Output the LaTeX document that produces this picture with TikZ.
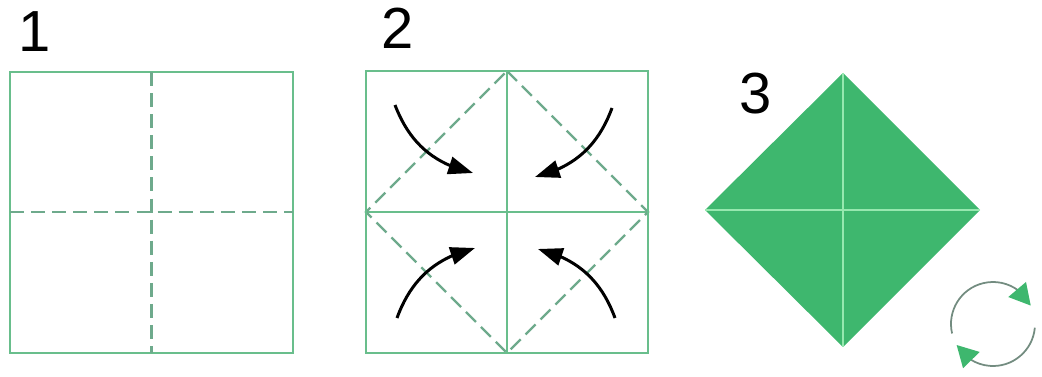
\documentclass[tikz,border=0pt]{standalone}
\usepackage{fontspec}
\setmainfont{Liberation Sans}
\usepackage{xcolor}
\usepackage{tikz}
\usetikzlibrary{arrows.meta,positioning,bending}
\definecolor{og_line}{RGB}{105, 190, 140}
\definecolor{og_dash}{RGB}{110, 170, 140}
\definecolor{og_fill}{RGB}{62, 183, 110}
\definecolor{og_crease}{RGB}{150, 232, 175}
\definecolor{og_gray}{RGB}{115, 140, 128}

\begin{document}
\begin{tikzpicture}[
  x=0.02cm,y=0.02cm,
  num/.style={font=\fontsize{33}{36}\selectfont,inner sep=0pt},
  paper/.style={draw=og_line,line width=1.7pt},
  valley/.style={draw=og_dash,line width=1.4pt,dash pattern=on 8pt off 4pt},
  crease/.style={draw=og_line,line width=1.1pt},
  foldarrow/.style={-{Triangle[length=14pt,width=10pt,flex]},line width=1.7pt,black},
  turnarrow/.style={-{Triangle[length=12pt,width=13pt,color=og_fill,flex]},line width=1pt,og_gray}
]
\useasboundingbox (0,0) rectangle (1042,376);
% step labels
\node[num] (n1) at (35,344) {1};
\node[num] (n2) at (398,348) {2};
\node[num] (n3) at (756,282) {3};
% step 1: square with centre creases
\draw[paper] (10,23) rectangle (293,304);
\draw[valley] (151.5,304) -- (151.5,23);
\draw[valley] (10,164) -- (293,164);
% step 2: fold the corners to the centre
\coordinate (c2) at (507,164);
\draw[crease] (507,305) -- (507,23);
\draw[crease] (366,164) -- (648,164);
\draw[valley] (507,305) -- (648,164) -- (507,23) -- (366,164) -- cycle;
\draw[paper] (366,23) rectangle (648,305);
\draw[foldarrow] (395,271) to[bend right=28] (473,203);
\draw[foldarrow] (612,268) to[bend left=28] (535,199);
\draw[foldarrow] (397,58) to[bend left=28] (475,128);
\draw[foldarrow] (615,58) to[bend right=28] (538,127);
% step 3: folded diamond, turn over
\fill[og_fill] (843,303) -- (980,166) -- (843,29) -- (705,166) -- cycle;
\draw[og_crease,line width=0.9pt] (843,303) -- (843,29);
\draw[og_crease,line width=0.9pt] (705,166) -- (980,166);
\coordinate (c3) at (993,52);
\draw[turnarrow] (c3) ++(193:42) arc[start angle=193,end angle=26,radius=42];
\draw[turnarrow] (c3) ++(-5:42) arc[start angle=-5,end angle=-150,radius=42];
\end{tikzpicture}
\end{document}
